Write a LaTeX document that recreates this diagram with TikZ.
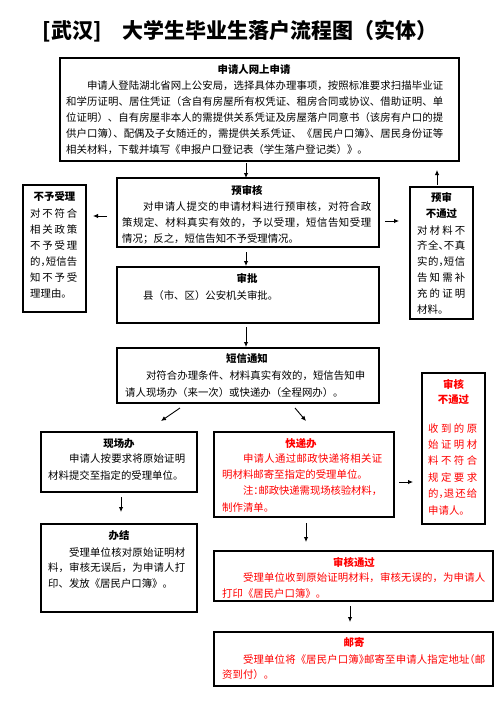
\documentclass[tikz,border=0pt]{standalone}
\usepackage{fontspec}
\setmainfont{Noto Sans CJK SC}
\usetikzlibrary{arrows.meta}
\XeTeXlinebreaklocale "zh"
\XeTeXlinebreakskip=0pt plus 2pt minus 0.3pt
\XeTeXlinebreakpenalty=10000
\setlength{\parindent}{0pt}
\newcommand{\halfL}[1]{\makebox[0.5em][l]{#1}}
\newcommand{\halfR}[1]{\makebox[0.5em][r]{#1}}
\tikzset{
  box/.style={draw=black, line width=1.2pt, inner sep=0pt, outer sep=0pt, fill=none},
  head/.style={font=\bfseries\fontsize{10.4}{12}\selectfont, inner sep=0pt},
  body/.style={font=\fontsize{10.4}{16}\selectfont, inner sep=0pt, anchor=north west, align=justify},
  redtxt/.style={text=red},
  arr/.style={draw=black, line width=0.9pt, -{Latex[length=5pt,width=4.5pt]}},
}
\begin{document}
\begin{tikzpicture}[x=1pt,y=-1pt]
\fill[white] (0,0) rectangle (502,712);
\useasboundingbox (0,0) rectangle (502,712);

% title
\node[inner sep=0pt, font=\bfseries\fontsize{21}{24}\selectfont] (title) at (240,31) {[武汉]　大学生毕业生落户流程图（实体）};

% boxes
\node[box, minimum width=399pt, minimum height=103pt] (b1) at (259.5,109.5) {};
\node[box, minimum width=262pt, minimum height=69pt] (b2) at (248,212.5) {};
\node[box, minimum width=262pt, minimum height=56pt] (b3) at (248,295) {};
\node[box, minimum width=262pt, minimum height=55pt] (b4) at (248,375.5) {};
\node[box, minimum width=63pt, minimum height=127pt] (nsl) at (54.5,248.5) {};
\node[box, minimum width=63pt, minimum height=132pt] (ysb) at (441.5,253) {};
\node[box, minimum width=156pt, minimum height=60pt] (xcb) at (119,462) {};
\node[box, minimum width=180pt, minimum height=85pt] (kdb) at (304,474.5) {};
\node[box, minimum width=63pt, minimum height=151pt] (shb) at (453.5,448.5) {};
\node[box, minimum width=156pt, minimum height=88pt] (bj) at (119,568) {};
\node[box, minimum width=279pt, minimum height=50pt] (shtg) at (353.5,576) {};
\node[box, minimum width=279pt, minimum height=54pt] (yj) at (353.5,659) {};

% box 1
\node[head] (h1) at (254,70) {申请人网上申请};
\node[body, text width=377pt] (t1) at (66,80.2) {\hspace*{2em}申请人登陆湖北省网上公安局，选择具体办理事项，按照标准要求扫描毕业证\linebreak
和学历证明、居住凭证（含自有房屋所有权凭证、租房合同或协议、借助证明、单\linebreak
位证明）、自有房屋非本人的需提供关系凭证及房屋落户同意书（该房有户口的提\linebreak
供户口簿\halfL{）}、配偶及子女随迁的，需提供关系凭证、《居民户口簿\halfL{》}、居民身份证等\linebreak
相关材料，下载并填写《申报户口登记表（学生落户登记类）》。};

% box 2
\node[head] (h2) at (247,191) {预审核};
\node[body, text width=249pt] (t2) at (122,201.2) {\hspace*{2em}对申请人提交的申请材料进行预审核，对符合政\linebreak
策规定、材料真实有效的，予以受理，短信告知受理\linebreak
情况；反之，短信告知不予受理情况。};

% box 3
\node[head] (h3) at (247,278) {审批};
\node[body, text width=249pt] (t3) at (122,290.2) {\hspace*{2em}县（市、区）公安机关审批。};

% box 4
\node[head] (h4) at (247,359) {短信通知};
\node[body, text width=240pt, font=\fontsize{10.4}{17}\selectfont] (t4) at (125,370.2) {\hspace*{2em}对符合办理条件、材料真实有效的，短信告知申\linebreak
请人现场办（来一次）或快递办（全程网办）。};

% not accepted
\node[head] (hn) at (54.5,197) {不予受理};
\node[body, text width=47pt] (tn) at (30,208.2) {对不符合\linebreak 相关政策\linebreak 不予受理\linebreak 的\halfL{，}短信告\linebreak 知不予受\linebreak 理理由。};

% pre-review failed
\node[head] (hy1) at (441.5,198) {预审};
\node[head] (hy2) at (441.5,214) {不通过};
\node[body, text width=48pt, font=\fontsize{10.4}{15.8}\selectfont] (ty) at (417,225.2) {对材料不\linebreak 齐全\halfL{、}不真\linebreak 实的\halfL{，}短信\linebreak 告知需补\linebreak 充的证明\linebreak 材料。};

% on-site
\node[head] (hx) at (119,444) {现场办};
\node[body, text width=137pt, font=\fontsize{10.4}{17}\selectfont] (tx) at (48,453.2) {\hspace*{2em}申请人按要求将原始证明\linebreak 材料提交至指定的受理单位。};

% express
\node[head, redtxt] (hk) at (301,444) {快递办};
\node[body, redtxt, text width=160pt, font=\fontsize{10.4}{16.3}\selectfont] (tk) at (222,453.2) {\hspace*{2em}申请人通过邮政快递将相关证\linebreak
明材料邮寄至指定的受理单位。\par
\hspace*{2em}注\halfL{：}邮政快递需现场核验材料，\linebreak
制作清单。};

% review failed
\node[head, redtxt] (hs1) at (453.5,384) {审核};
\node[head, redtxt] (hs2) at (453.5,400) {不通过};
\node[body, redtxt, text width=49pt, font=\fontsize{10.4}{16.4}\selectfont] (ts) at (428,423.2) {收到的原\linebreak 始证明材\linebreak 料不符合\linebreak 规定要求\linebreak 的\halfL{，}退还给\linebreak 申请人。};

% finished
\node[head] (hb) at (119,536) {办结};
\node[body, text width=137pt, font=\fontsize{10.4}{15.7}\selectfont] (tb) at (48,547.2) {\hspace*{2em}受理单位核对原始证明材\linebreak 料，审核无误后，为申请人打\linebreak 印、发放《居民户口簿》。};

% review passed
\node[head, redtxt] (hg) at (354,562) {审核通过};
\node[body, redtxt, text width=263pt] (tg) at (222,572.2) {\hspace*{2em}受理单位收到原始证明材料，审核无误的，为申请人\linebreak 打印《居民户口簿》。};

% mail
\node[head, redtxt] (hm) at (354,643) {邮寄};
\node[body, redtxt, text width=263pt, font=\fontsize{10.4}{15.5}\selectfont] (tm) at (222,654.2) {\hspace*{2em}受理单位将《居民户口簿\halfL{》}邮寄至申请人指定地址\halfR{（}邮\linebreak 资到付）。};

% connectors
\draw[arr] ([shift={(-13.5,2)}]b1.south) -- ([shift={(-2,0)}]b2.north);
\draw[arr] ([shift={(-2,5)}]b2.south) -- ([shift={(-2,-1)}]b3.north);
\draw[arr] ([shift={(-2,4)}]b3.south) -- ([shift={(-2,-1)}]b4.north);
\draw[arr] ([shift={(-10,3.5)}]b2.west) -- ([shift={(7,-32.5)}]nsl.east);
\draw[arr] ([shift={(6,8.5)}]b2.east) -- ([shift={(-11,-32)}]ysb.west);
\draw[arr] ([shift={(-4.5,-2)}]ysb.north) -- ([shift={(-22,9)}]b1.south east);
\draw[arr] ([shift={(-68,5)}]b4.south) -- ([shift={(42,-11)}]xcb.north);
\draw[arr] ([shift={(47,5)}]b4.south) -- ([shift={(2,-11)}]kdb.north);
\draw[arr] ([shift={(2,5)}]xcb.south) -- ([shift={(2,-12)}]bj.north);
\draw[arr] ([shift={(2,6)}]kdb.south) -- ([shift={(-47.5,-9)}]shtg.north);
\draw[arr] ([shift={(5,7.5)}]kdb.east) -- ([shift={(-9,33.5)}]shb.west);
\draw[arr] ([shift={(-3.5,5)}]shtg.south) -- ([shift={(-3.5,-10)}]yj.north);
\end{tikzpicture}
\end{document}
